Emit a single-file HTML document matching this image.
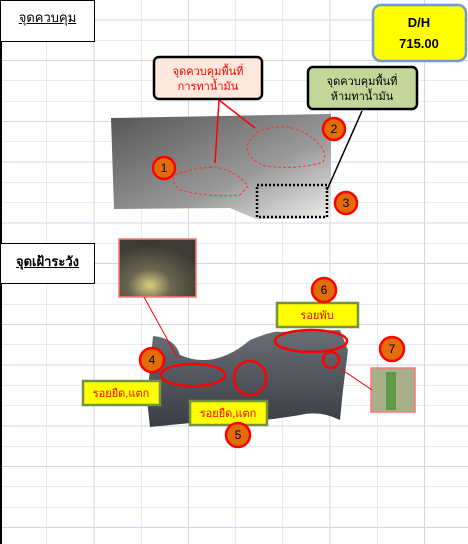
<!DOCTYPE html>
<html><head><meta charset="utf-8"><style>
html,body{margin:0;padding:0;}
body{width:468px;height:544px;overflow:hidden;position:relative;background:#fff;font-family:"Liberation Sans","Noto Sans CJK SC",sans-serif;}
#grid{position:absolute;left:0;top:0;width:468px;height:544px;
background-image:repeating-linear-gradient(to right,transparent 0,transparent 46.5px,#d0d7e5 46.5px,#d0d7e5 47.2px),repeating-linear-gradient(to bottom,transparent 0,transparent 19.6px,#d0d7e5 19.6px,#d0d7e5 20.3px);}
.box{position:absolute;background:#fff;border:1px solid #000;text-align:center;font-size:13px;text-decoration:underline;}
</style></head><body>
<div id="grid"></div>
<div style="position:absolute;left:0;top:0;width:2px;height:544px;background:#000"></div>
<div class="box" style="left:0;top:0;width:93px;height:40px;line-height:34px">จุดควบคุม</div>
<div class="box" style="left:0;top:243px;width:93px;height:39px;line-height:36px;font-weight:bold">จุดเฝ้าระวัง</div>
<svg width="468" height="544" style="position:absolute;left:0;top:0" font-family="Liberation Sans, Noto Sans CJK SC, sans-serif">
<defs>
<linearGradient id="g1" x1="0" y1="0" x2="1" y2="1"><stop offset="0" stop-color="#555"/><stop offset="0.6" stop-color="#999"/><stop offset="1" stop-color="#eee"/></linearGradient>
<linearGradient id="g2" x1="0" y1="0" x2="0" y2="1"><stop offset="0" stop-color="#6a6e76"/><stop offset="1" stop-color="#3a3d44"/></linearGradient>
<radialGradient id="ph" cx="0.4" cy="0.8" r="0.7"><stop offset="0" stop-color="#ddd080"/><stop offset="0.4" stop-color="#6a6550"/><stop offset="1" stop-color="#3c3a33"/></radialGradient>
</defs>
<g>
<rect x="373" y="5" width="93" height="56" rx="8" fill="#ffff00" stroke="#6f9ad6" stroke-width="2.5"/>
<text x="419" y="27" text-anchor="middle" font-size="13" font-weight="bold">D/H</text>
<text x="419" y="48" text-anchor="middle" font-size="13" font-weight="bold">715.00</text></g>
<polygon points="111,118 331,114 331,219 256,219 230,208 114,209" fill="url(#g1)"/>
<path d="M175,175 Q190,168 215,167 Q235,170 248,186 L240,195 Q210,198 180,190 Q170,182 175,175Z" fill="none" stroke="#f33" stroke-dasharray="3,2"/>
<path d="M257,132 Q285,120 308,135 Q330,150 323,162 Q300,170 265,166 Q240,155 250,140Z" fill="none" stroke="#f33" stroke-dasharray="3,2"/>
<rect x="257" y="185" width="70" height="32" fill="none" stroke="#000" stroke-width="2.5" stroke-dasharray="2,2"/>
<g>
<rect x="154" y="57" width="108" height="42" rx="5" fill="#fce8dc" stroke="#000" stroke-width="2.5"/>
<text x="208" y="75" text-anchor="middle" font-size="11" fill="#f00">จุดควบคุมพื้นที่</text>
<text x="208" y="90" text-anchor="middle" font-size="11" fill="#f00">การทาน้ำมัน</text>
<line x1="219" y1="100" x2="215" y2="163" stroke="#f00" stroke-width="1.5"/>
<line x1="219" y1="100" x2="255" y2="128" stroke="#f00" stroke-width="1.5"/></g>
<g>
<rect x="308" y="67" width="109" height="42" rx="5" fill="#c4d79b" stroke="#000" stroke-width="2.5"/>
<text x="362" y="85" text-anchor="middle" font-size="11">จุดควบคุมพื้นที่</text>
<text x="362" y="100" text-anchor="middle" font-size="11">ห้ามทาน้ำมัน</text>
<line x1="362" y1="111" x2="327" y2="190" stroke="#000" stroke-width="1.5"/></g>
<g font-size="12" text-anchor="middle">
<circle cx="164" cy="168" r="11" fill="#e36c0a" stroke="#f00" stroke-width="2.5"/><text x="164" y="172">1</text>
<circle cx="334" cy="129" r="11" fill="#e36c0a" stroke="#f00" stroke-width="2.5"/><text x="334" y="133">2</text>
<circle cx="346" cy="203" r="11" fill="#e36c0a" stroke="#f00" stroke-width="2.5"/><text x="346" y="207">3</text>
</g>
<path d="M153,336 Q175,338 180,355 Q215,370 250,340 Q275,330 280,332 L340,330 L348,350 L343,390 L340,420 Q320,410 300,415 Q270,420 260,420 Q220,425 200,422 Q170,425 150,427 L147,400 Z" fill="url(#g2)"/>
<rect x="119" y="239" width="77" height="58" fill="url(#ph)" stroke="#f77" stroke-width="1.5"/>
<line x1="144" y1="297" x2="177" y2="357" stroke="#f00"/>
<rect x="371" y="368" width="44" height="44" fill="#a8b08a" stroke="#f77" stroke-width="1.5"/>
<rect x="386" y="372" width="10" height="38" fill="#5e9a48"/>
<line x1="372" y1="390" x2="341" y2="369" stroke="#f00"/>
<g fill="none" stroke="#f00" stroke-width="2.5">
<ellipse cx="193" cy="375" rx="32" ry="11"/>
<ellipse cx="250" cy="378" rx="16" ry="17"/>
<ellipse cx="311" cy="341" rx="36" ry="11"/>
<circle cx="331" cy="360" r="8"/></g>
<g font-size="11" text-anchor="middle" fill="#f00">
<rect x="277" y="303" width="81" height="24" fill="#ff0" stroke="#76923c" stroke-width="2.5"/><text x="317" y="319">รอยพับ</text>
<rect x="83" y="381" width="77" height="24" fill="#ff0" stroke="#76923c" stroke-width="2.5"/><text x="121" y="397">รอยยืด,แตก</text>
<rect x="190" y="401" width="77" height="24" fill="#ff0" stroke="#76923c" stroke-width="2.5"/><text x="228" y="417">รอยยืด,แตก</text></g>
<g font-size="12" text-anchor="middle">
<circle cx="152" cy="360" r="12" fill="#e36c0a" stroke="#f00" stroke-width="2.5"/><text x="152" y="364">4</text>
<circle cx="238" cy="435" r="12" fill="#e36c0a" stroke="#f00" stroke-width="2.5"/><text x="238" y="439">5</text>
<circle cx="324" cy="290" r="12" fill="#e36c0a" stroke="#f00" stroke-width="2.5"/><text x="324" y="294">6</text>
<circle cx="392" cy="349" r="12" fill="#e36c0a" stroke="#f00" stroke-width="2.5"/><text x="392" y="353">7</text></g>
</svg>
</body></html>
